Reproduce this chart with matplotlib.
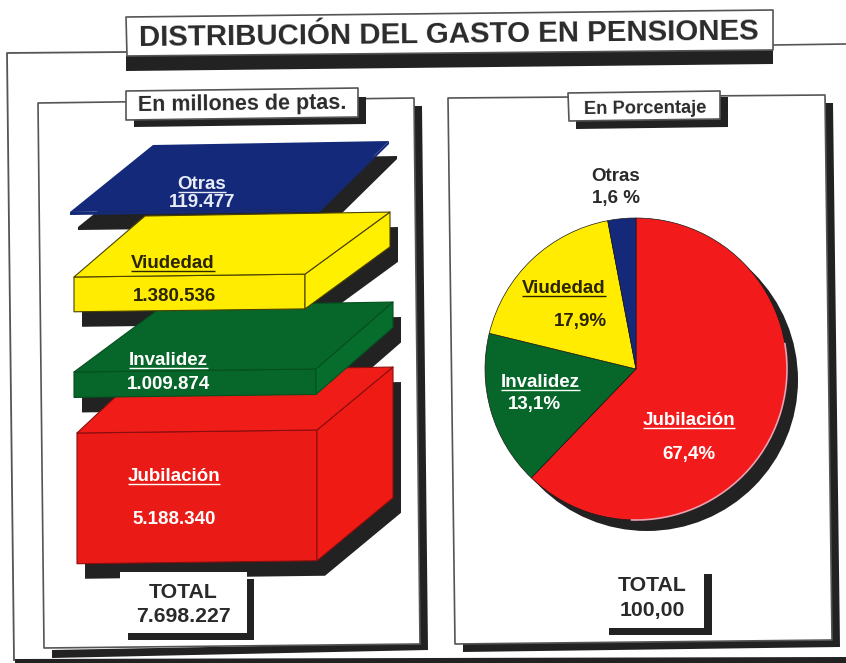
import matplotlib
matplotlib.use("Agg")
import matplotlib.pyplot as plt
from matplotlib.patches import Polygon, Circle, Arc

plt.rcParams['font.family'] = ['Liberation Sans', 'DejaVu Sans']

# ---- data ----
title = "DISTRIBUCIÓN DEL GASTO EN PENSIONES"
left_header = "En millones de ptas."
right_header = "En Porcentaje"
block_categories = ["Otras", "Viudedad", "Invalidez", "Jubilación"]
block_values = [119477, 1380536, 1009874, 5188340]
block_labels = ["119.477", "1.380.536", "1.009.874", "5.188.340"]
total_label = "7.698.227"
# slices as actually drawn in the picture, clockwise from 12 o'clock
pie_categories = ["Jubilación", "Invalidez", "Viudedad", "Otras"]
pie_drawn_shares = [62.2, 16.6, 18.2, 3.0]
pie_labels = ["67,4%", "13,1%", "17,9%", "1,6 %"]
pie_total_label = "100,00"

# ---- style ----
W, H = 846, 663
DARK = "#222222"
LINE = "#555555"
COL = {"Otras": "#14297a", "Viudedad": "#ffec00", "Invalidez": "#07672a", "Jubilación": "#ea1a16"}
SIDE = {"Otras": "#14297a", "Viudedad": "#fff000", "Invalidez": "#076d2c", "Jubilación": "#f01a14"}
TOP = {"Otras": "#14297a", "Viudedad": "#ffee00", "Invalidez": "#07672a", "Jubilación": "#f01c18"}
EDGE = {"Otras": "none", "Viudedad": "#4a4200", "Invalidez": "#05501f", "Jubilación": "#8a0e0e"}
# x0, x1 front; bx0, bx1 back; y front; y back
GEOM = {
    "Otras": (70, 320, 153, 389, 212, 145),
    "Viudedad": (74, 305, 145, 390, 277, 216),
    "Invalidez": (74, 316, 163, 393, 372, 306),
    "Jubilación": (77, 317, 143, 393, 433, 371),
}
PX_PER_UNIT = 2.52e-5
TILT = 0.0125
SHADOW = (8, 15)
LABEL_SIZE = 13.5
TOTAL_SIZE = 15.3
TEXT_DY = 1.5

fig = plt.figure(figsize=(W / 100, H / 100), dpi=100, facecolor="white")
ax = fig.add_axes([0, 0, 1, 1])
ax.set_autoscale_on(False)
ax.set_xlim(0, W)
ax.set_ylim(H, 0)
ax.axis("off")
renderer = fig.canvas.get_renderer()


def poly(pts, fc, ec="none", lw=0.0, z=1):
    ax.add_patch(Polygon(pts, closed=True, fc=fc, ec=ec, lw=lw, zorder=z, joinstyle="round"))


def block_points(cat, value):
    x0, x1, bx0, bx1, yf, yb = GEOM[cat]
    h = value * PX_PER_UNIT
    t = lambda x: -(x - x0) * TILT
    return dict(
        h=h,
        fl=(x0, yf), fr=(x1, yf + t(x1)),
        bl=(bx0, yb), br=(bx1, yb + t(bx1)),
        fl2=(x0, yf + h), fr2=(x1, yf + t(x1) + h),
        br2=(bx1, yb + t(bx1) + h),
    )


def block_shadow(cat, value, z):
    p = block_points(cat, value)
    pts = [p["fl"], p["bl"], p["br"], p["br2"], p["fr2"], p["fl2"]]
    poly([(x + SHADOW[0], y + SHADOW[1]) for x, y in pts], DARK, z=z)


def block_faces(cat, value, z):
    p = block_points(cat, value)
    e, lw = EDGE[cat], 0.8 if EDGE[cat] != "none" else 0
    poly([p["fl"], p["fr"], p["fr2"], p["fl2"]], COL[cat], e, lw, z)
    poly([p["fr"], p["br"], p["br2"], p["fr2"]], SIDE[cat], e, lw, z)
    poly([p["fl"], p["bl"], p["br"], p["fr"]], TOP[cat], e, lw, z)


def label(x, y, s, color, size=LABEL_SIZE, underline=False, z=20, weight="bold", rot=0):
    t = ax.text(x, y + TEXT_DY, s, color=color, fontsize=size, fontweight=weight, ha="center",
                va="center", zorder=z, rotation=rot, rotation_mode="anchor")
    if underline:
        bb = t.get_window_extent(renderer)
        yy = y + size * 0.58 + TEXT_DY
        ax.plot([bb.x0, bb.x1], [yy, yy], color=color, lw=1.0, zorder=z, solid_capstyle="butt")
    return t


# outer frame
ax.plot([126, 7, 14], [52, 53, 660], color=LINE, lw=1.3, zorder=1)
ax.plot([773, 846], [45, 44], color=LINE, lw=1.2, zorder=1)
poly([(15, 659), (846, 657), (846, 663), (15, 663)], DARK, z=1)

# left panel
poly([(414, 106), (422, 106), (428, 650), (52, 658), (52, 650), (420, 643)], DARK, z=2)
poly([(38, 103), (414, 98), (420, 644), (44, 648)], "white", LINE, 1.2, 3)

# right panel
poly([(825, 103), (833, 103), (840, 647), (463, 652), (463, 644), (832, 640)], DARK, z=2)
poly([(448, 98), (825, 95), (832, 640), (455, 644)], "white", LINE, 1.2, 3)

# title box
poly([(126, 56), (773, 50), (773, 64), (126, 71)], DARK, z=10)
poly([(126, 17), (773, 10), (773, 50), (127, 56)], "white", LINE, 1.2, 11)
label(449, 33, title, "#2a2a2a", size=21.2, z=12, rot=0.6)

# header boxes
poly([(358, 97), (366, 97), (366, 124), (134, 127), (134, 120), (358, 117)], DARK, z=10)
poly([(126, 91), (358, 88), (358, 117), (126, 120)], "white", LINE, 1.2, 11)
label(242, 103, left_header, "#2a2a2a", size=15.5, z=12, rot=0.6)
poly([(720, 97), (728, 97), (728, 127), (576, 129), (576, 121), (720, 119)], DARK, z=10)
poly([(568, 93), (720, 91), (720, 119), (569, 121)], "white", LINE, 1.2, 11)
label(645, 107, right_header, "#2a2a2a", size=13.2, z=12, rot=0.6)

# blocks
vals = dict(zip(block_categories, block_values))
block_shadow("Otras", vals["Otras"], 4)
block_faces("Otras", vals["Otras"], 4.1)
block_shadow("Viudedad", vals["Viudedad"], 4.2)
block_shadow("Invalidez", vals["Invalidez"], 4.3)
block_shadow("Jubilación", vals["Jubilación"], 4.4)
block_faces("Jubilación", vals["Jubilación"], 5)
block_faces("Invalidez", vals["Invalidez"], 6)
block_faces("Viudedad", vals["Viudedad"], 7)

blabels = dict(zip(block_categories, block_labels))
label(202, 183, "Otras", "#e8ecf8", underline=True)
label(202, 201, blabels["Otras"], "#e8ecf8")
label(173, 262, "Viudedad", "#2a2400", underline=True)
label(174, 295, blabels["Viudedad"], "#2a2400")
label(168, 359, "Invalidez", "white", underline=True)
label(168, 383, blabels["Invalidez"], "white")
label(174, 475, "Jubilación", "white", underline=True)
label(174, 518, blabels["Jubilación"], "white")

# left total
poly([(120, 572), (247, 572), (247, 634), (120, 634)], "white", z=8)
poly([(247, 579), (254, 579), (254, 640), (128, 640), (128, 633), (247, 633)], DARK, z=9)
label(183, 591, "TOTAL", "#2a2a2a", TOTAL_SIZE)
label(183, 615, total_label, "#2a2a2a", TOTAL_SIZE)

# pie
cx, cy, r = 636, 369, 151
ax.add_patch(Circle((cx + 11, cy + 11), r, fc=DARK, ec="none", zorder=4))
wedges, _ = ax.pie(pie_drawn_shares, colors=[COL[c] for c in pie_categories], startangle=-90,
                   counterclock=True, center=(cx, cy), radius=r,
                   wedgeprops=dict(edgecolor="#1a1a1a", linewidth=0.5), normalize=True)
for w in wedges:
    w.set_zorder(5)
wedges[0].set_facecolor("#f21a1a")
ax.add_patch(Arc((cx, cy), 2 * r, 2 * r, theta1=-10, theta2=92, color="#f0a0b0", lw=1.2, zorder=6))
ax.set_xlim(0, W)
ax.set_ylim(H, 0)
ax.set_aspect("auto")
ax.axis("off")

plabels = dict(zip(pie_categories, pie_labels))
label(616, 175, "Otras", "#2a2a2a")
label(616, 197, plabels["Otras"], "#2a2a2a")
label(564, 287, "Viudedad", "#2a2400", underline=True)
label(580, 320, plabels["Viudedad"], "#2a2400")
label(540, 381, "Invalidez", "white", underline=True)
label(534, 403, plabels["Invalidez"], "white")
label(689, 419, "Jubilación", "white", underline=True)
label(689, 453, plabels["Jubilación"], "white")

# right total
poly([(704, 574), (712, 574), (712, 635), (609, 635), (609, 628), (704, 628)], DARK, z=9)
label(652, 584, "TOTAL", "#2a2a2a", TOTAL_SIZE)
label(652, 609, pie_total_label, "#2a2a2a", TOTAL_SIZE)

fig.savefig("out.png", dpi=100, facecolor="white")
